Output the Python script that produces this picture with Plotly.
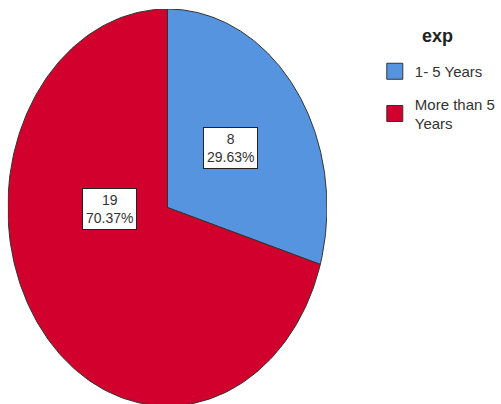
import numpy as np
import plotly.graph_objects as go

categories = ["1- 5 Years", "More than 5<br>Years"]
counts = [8, 19]
colors = ["#5794E0", "#D2002C"]
legend_title = "exp"
label_pos = [(0.395, 0.30), (-0.36, -0.01)]

FONT = "Liberation Sans, Arial, sans-serif"

total = sum(counts)
fig = go.Figure()
start = 0.0
for i, (cat, val, col, (lx, ly)) in enumerate(zip(categories, counts, colors, label_pos)):
    frac = val / total
    th = np.linspace(start, start + frac * 2 * np.pi, 200)
    xs = np.concatenate([[0], np.sin(th), [0]])
    ys = np.concatenate([[0], np.cos(th), [0]])
    fig.add_trace(go.Scatter(x=xs, y=ys, fill="toself", fillcolor=col, mode="lines",
                             line=dict(color="#333333", width=1), name=cat,
                             showlegend=False, hoverinfo="skip"))
    fig.add_trace(go.Scatter(x=[None], y=[None], mode="markers", name=cat,
                             legendgroup=f"g{i}",
                             marker=dict(symbol="square", size=16, color=col,
                                         line=dict(color="#333333", width=1))))
    fig.add_annotation(x=lx, y=ly, text=f"{val}<br>{frac*100:.2f}%", showarrow=False,
                       bgcolor="white", bordercolor="#222222", borderwidth=1, borderpad=3,
                       font=dict(size=14, color="#333333", family=FONT))
    start += frac * 2 * np.pi

fig.add_annotation(xref="paper", yref="paper", x=448 / 501, y=1 - 36 / 404,
                   xanchor="center", yanchor="middle", showarrow=False,
                   text=f"<b>{legend_title}</b>",
                   font=dict(size=18, color="#222222", family=FONT))

fig.update_layout(
    width=501, height=404,
    margin=dict(l=0, r=0, t=0, b=0),
    paper_bgcolor="white", plot_bgcolor="white",
    xaxis=dict(domain=[8 / 501, 335 / 501], range=[-1.0, 1.0], visible=False, fixedrange=True),
    yaxis=dict(domain=[0, 1 - 9 / 404], range=[-0.99, 1.0], visible=False, fixedrange=True),
    showlegend=True,
    legend=dict(x=384 / 501, y=1 - 55 / 404, xanchor="left", yanchor="top",
                font=dict(size=15, color="#333333", family=FONT),
                itemwidth=30, tracegroupgap=10, bgcolor="rgba(0,0,0,0)"),
)
fig.write_html("out.html", config={"displayModeBar": False},
               post_script="document.body.style.margin='0px';")
